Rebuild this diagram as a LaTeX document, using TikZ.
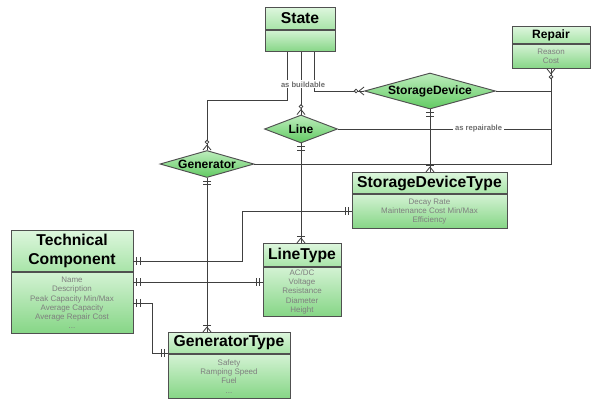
\documentclass[tikz,border=0pt]{standalone}
\usepackage{fontspec}
\setmainfont{Liberation Sans}
\usetikzlibrary{shapes.geometric,decorations.markings,positioning}

\definecolor{edge}{HTML}{505050}
\definecolor{headtop}{HTML}{DDF6DD}
\definecolor{headbot}{HTML}{A8E4A8}
\definecolor{bodytop}{HTML}{D3F2D3}
\definecolor{bodybot}{HTML}{86D686}
\definecolor{reltop}{HTML}{BDEDBD}
\definecolor{relbot}{HTML}{62CA62}
\definecolor{linkc}{HTML}{404040}
\definecolor{attr}{HTML}{7F7F7F}
\definecolor{rolec}{HTML}{6E6E6E}

\newlength\pxu
\setlength\pxu{0.03cm}
\newcommand{\titlefont}{\fontsize{13.4}{16}\selectfont\bfseries}
\newcommand{\smalltitle}{\fontsize{10.3}{12}\selectfont\bfseries}
\newcommand{\relfont}{\fontsize{10.3}{12}\selectfont\bfseries}
\newcommand{\attrfont}{\fontsize{6.8}{7.95}\selectfont}
\newcommand{\rolefont}{\fontsize{6.5}{7}\selectfont\bfseries}

\tikzset{
  ehead/.style={draw=edge, line width=0.8pt, top color=headtop, bottom color=headbot,
    inner sep=0pt, align=center, font=\titlefont},
  ebody/.style={draw=edge, line width=0.8pt, top color=bodytop, bottom color=bodybot,
    inner sep=0pt, align=center, text=attr, font=\attrfont},
  rel/.style={diamond, draw=edge, line width=0.8pt, top color=reltop, bottom color=relbot,
    inner sep=0pt, font=\relfont},
  link/.style={draw=linkc, line width=0.7pt},
  rolelbl/.style={fill=white, inner xsep=1.5pt, inner ysep=1pt, text=rolec, font=\rolefont},
  one start/.style={postaction={decorate, decoration={markings,
    mark=at position 3\pxu with {\draw[link] (0,-4) -- (0,4);},
    mark=at position 6.5\pxu with {\draw[link] (0,-4) -- (0,4);}}}},
  one end/.style={postaction={decorate, decoration={markings,
    mark=at position -6.5\pxu with {\draw[link] (0,-4) -- (0,4);},
    mark=at position -3\pxu with {\draw[link] (0,-4) -- (0,4);}}}},
  zmany end/.style={postaction={decorate, decoration={markings,
    mark=at position -8\pxu with {\draw[link, fill=white] (0,0) circle (1.8);},
    mark=at position -5\pxu with {\draw[link] (0,0) -- (5,4); \draw[link] (0,0) -- (5,-4);}}}},
  omany end/.style={postaction={decorate, decoration={markings,
    mark=at position -6.5\pxu with {\draw[link] (0,-4) -- (0,4);},
    mark=at position -5\pxu with {\draw[link] (0,0) -- (5,4); \draw[link] (0,0) -- (5,-4);}}}},
}

% name, x, top, width, head height, body height, title, attributes
\newcommand{\entity}[8]{%
  \node[ehead, minimum width=#4\pxu, minimum height=#5\pxu, anchor=north] (#1) at (#2,#3) {#7};
  \node[ebody, minimum width=#4\pxu, minimum height=#6\pxu, below=0pt of #1] (#1b) {#8};
}

\begin{document}
\begin{tikzpicture}[x=0.03cm, y=-0.03cm]
\useasboundingbox[fill=white] (0,0) rectangle (600,406);

\entity{state}{300}{7}{70}{22}{21}{State}{}
\entity{repair}{551}{26}{78}{17}{24}{\smalltitle Repair}{Reason\\Cost}
\entity{sdt}{429.5}{172}{155}{21}{34}{StorageDeviceType}{Decay Rate\\Maintenance Cost Min/Max\\Efficiency}
\entity{lt}{302}{243}{78}{23}{49}{LineType}{AC/DC\\Voltage\\Resistance\\Diameter\\Height}
\entity{gt}{229}{332}{122}{21}{44}{GeneratorType}{Safety\\Ramping Speed\\Fuel\\...}
\entity{tc}{72}{230}{122}{41}{61}{Technical\\Component}{Name\\Description\\Peak Capacity Min/Max\\Average Capacity\\Average Repair Cost\\...}

\node[rel, aspect=3.64, minimum width=131\pxu, minimum height=36\pxu] (sd) at (430,91) {StorageDevice};
\node[rel, aspect=2.6, minimum width=73\pxu, minimum height=28\pxu] (line) at (301,129) {Line};
\node[rel, aspect=3.48, minimum width=94\pxu, minimum height=27\pxu] (gen) at (207,164) {Generator};

% state as buildable
\draw[link, zmany end] ([xshift=-13\pxu]stateb.south) -- ++(0,49) -| (gen.north);
\draw[link, zmany end] ([xshift=14\pxu]stateb.south) |- (sd.west);
\draw[link, zmany end] (stateb.south -| line.north) -- (line.north)
  node[rolelbl, pos=0.52, xshift=2\pxu] {as buildable};

% repair
\draw[link] (sd.east) -- (sd.east -| repairb.south);
\draw[link, zmany end] (gen.east) -| (repairb.south);
\draw[link] (line.east) -- (line.east -| repairb.south)
  node[rolelbl, pos=0.66] {as repairable};

% types
\draw[link, one start, omany end] (sd.south) -- (sd.south |- sdt.north);
\draw[link, one start, omany end] (line.south) -- (line.south |- lt.north);
\draw[link, one start, omany end] (gen.south) -- (gen.south |- gt.north);

% technical component
\draw[link, one start, one end] ([yshift=-10.5\pxu]tc.east) -- ++(109,0) |- (sdtb.west);
\draw[link, one start, one end] ([yshift=20.5\pxu]tcb.east) -- ([yshift=9.5\pxu]ltb.west);
\draw[link, one start, one end] (tcb.east) -- ++(19,0) |- ([yshift=1\pxu]gtb.north west);
\end{tikzpicture}
\end{document}
